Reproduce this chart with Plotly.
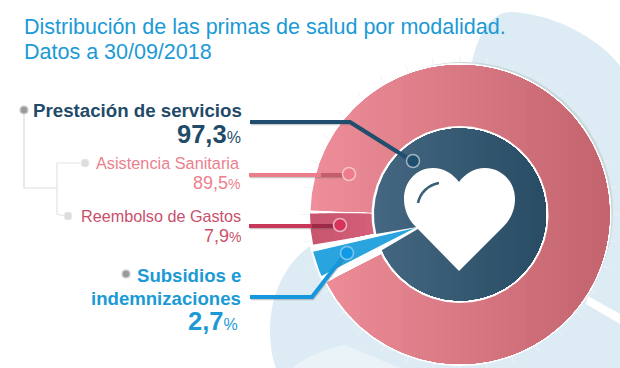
import numpy as np
import plotly.graph_objects as go

# ---- data -----------------------------------------------------------------
title_lines = ["Distribución de las primas de salud por modalidad.", "Datos a 30/09/2018"]
categories = ["Prestación de servicios", "Asistencia Sanitaria", "Reembolso de Gastos", "Subsidios e indemnizaciones"]
printed_values = ["97,3", "89,5", "7,9", "2,7"]
# Share of the outer ring as the sectors are actually drawn in the picture (percent of the turn)
ring_names = ["Asistencia Sanitaria", "Reembolso de Gastos", "Subsidios e indemnizaciones"]
ring_drawn_shares = [92.1, 3.5, 2.7]

# ---- geometry / style ------------------------------------------------------
CX, CY, R_OUT, R_IN = 460.0, 214.5, 149.5, 86.0
PINK_START = 271.5      # degrees clockwise from 12 o'clock
RED_START = 270.4
BLUE_START = 255.8
TIP = (415.0, 228.0)
BLUE_TXT = "#1B9AD6"; NAVY = "#1F4A68"; PINK_TXT = "#EC7F8E"; RED_TXT = "#C9506C"


def arc(a0, a1, r, n=None):
    n = n or max(3, int(abs(a1 - a0) * 1.5))
    t = np.radians(np.linspace(a0, a1, n))
    return np.c_[CX + r * np.sin(t), CY - r * np.cos(t)]


def sector(a0, a1, r0, r1):
    outer = arc(a0, a1, r1)
    if r0 <= 0:
        return outer
    return np.vstack([outer, arc(a1, a0, r0)])


def clip_right(poly, xk):
    out = []
    for i in range(len(poly)):
        p, q = poly[i], poly[(i + 1) % len(poly)]
        pin, qin = p[0] >= xk, q[0] >= xk
        if pin:
            out.append(p)
        if pin != qin:
            t = (xk - p[0]) / (q[0] - p[0])
            out.append(p + t * (q - p))
    return np.array(out)


def hex2rgb(h):
    return np.array([int(h[i:i + 2], 16) for i in (1, 3, 5)], float)


fig = go.Figure()


def poly_trace(poly, color, name=None):
    x = list(poly[:, 0]) + [poly[0, 0]]
    y = list(poly[:, 1]) + [poly[0, 1]]
    fig.add_trace(go.Scatter(x=x, y=y, mode="lines", fill="toself", fillcolor=color,
                             line=dict(width=0, color=color), hoverinfo="skip",
                             showlegend=False, name=name))


def gradient(poly, c0, c1, x0, x1, steps=36, name=None):
    a, b = hex2rgb(c0), hex2rgb(c1)
    for k in range(steps):
        f = k / (steps - 1)
        xk = x0 + (x1 - x0) * k / steps
        cl = clip_right(poly, xk) if k else poly
        if len(cl) < 3:
            continue
        c = a + (b - a) * f
        poly_trace(cl, "rgb(%d,%d,%d)" % tuple(c), name)


def line(xs, ys, color, width, opacity=1.0):
    fig.add_trace(go.Scatter(x=xs, y=ys, mode="lines", opacity=opacity, hoverinfo="skip", showlegend=False,
                             line=dict(color=color, width=width)))


def dot(x, y, fill, ring, size, ring_w=1.5, opacity=1.0):
    fig.add_trace(go.Scatter(x=[x], y=[y], mode="markers", hoverinfo="skip", showlegend=False, opacity=opacity,
                             marker=dict(size=size, color=fill, line=dict(color=ring, width=ring_w))))


# tick marks around the disc
tx, ty = [], []
for a in np.arange(0, 360, 10.0):
    s, c = np.sin(np.radians(a)), np.cos(np.radians(a))
    tx += [CX + 150 * s, CX + 159 * s, None]
    ty += [CY - 150 * c, CY - 159 * c, None]
line(tx, ty, "#F0F3F5", 1)

# shadow + white rim of the disc
t = np.radians(np.linspace(0, 360, 361))
poly_trace(np.c_[CX + 3 + 150 * np.sin(t), CY - 2.5 - 150 * np.cos(t)], "#CBD8DB")
poly_trace(np.c_[CX + 151.5 * np.sin(t), CY - 151.5 * np.cos(t)], "#FFFFFF")

shares_deg = [s * 3.6 for s in ring_drawn_shares]

# pink sector: clockwise from PINK_START
gradient(sector(PINK_START, PINK_START + shares_deg[0], R_IN, R_OUT), "#EE8E9A", "#C4646E", CX - R_OUT, CX + R_OUT,
         name=ring_names[0])
# red sector
gradient(sector(RED_START - shares_deg[1], RED_START, R_IN, R_OUT + 0.5), "#C9566F", "#D35F79", CX - R_OUT, CX - R_IN,
         steps=8, name=ring_names[1])

# inner disc
poly_trace(sector(0, 360, 0, R_IN + 2.5), "#FFFFFF")
gradient(sector(0, 360, 0, R_IN), "#456781", "#294D65", CX - R_IN, CX + R_IN, name=categories[0])

# white wedge behind blue sector
a_top, a_bot = BLUE_START, BLUE_START - shares_deg[2]
w = np.vstack([[TIP[0] + 8, TIP[1] - 2], arc(a_top + 2.6, a_bot - 3.2, R_OUT + 4)])
poly_trace(w, "#FFFFFF")
# blue sector
b = np.vstack([[TIP], arc(a_top, a_bot, R_OUT + 2)])
poly_trace(b, "#2AA4DF", ring_names[2])

# leader lines
def leader(xs, ys, color, dark=None):
    line([v + 1 for v in xs], [v + 2 for v in ys], "#555555", 2.5, 0.3)
    line(xs, ys, color, 4)
    if dark:
        line([xs[-1] - 28, xs[-1]], ys[-2:], dark, 4, 0.7)

leader([250, 350, 412], [122, 122, 161], "#1F4E6E")
leader([249, 349], [175, 175], "#EC7D8B", "#B5505F")
leader([249, 340], [226, 226], "#C9375A", "#8A2440")
leader([250, 312, 346], [297, 297, 253], "#1497DC")

dot(413, 161, "#1F4E6E", "#9FB3C0", 13, 1.5)
dot(349, 174, "#EE7C8C", "#F3C4CB", 13, 1.5)
dot(340, 225, "#D9335C", "#E6B5C2", 13, 1.5)
dot(347, 253, "#0F9AE6", "#7FC6EC", 13, 1.5)

# tree connectors and bullets
line([24, 24, 57], [115, 188, 188], "#DDDDDD", 1.2)
line([80, 57, 57, 65], [163, 163, 214, 216], "#E3E3E3", 1.2)
dot(24, 110, "#9A9A9A", "#D0D0D0", 8, 1.5)
dot(85, 163, "#DDDDDD", "#E8E8E8", 8, 1)
dot(68, 216, "#DDDDDD", "#E8E8E8", 8, 1)
dot(126, 274, "#9A9A9A", "#D0D0D0", 8, 1.5)

HEART = ("M 459 271 L 415 226 C 408 219 404 209 404 199 C 404 181 417 168 433 168 C 444 168 453 174 459 182 "
         "C 465 174 474 168 485 168 C 501 168 515 181 515 199 C 515 209 511 219 504 226 Z")
shapes = [
    dict(type="path", layer="below", line=dict(width=0), fillcolor="#DCEBF4",
         path="M 472 62 C 478 35 490 12 512 12 C 560 15 602 42 620 66 L 620 368 L 470 368 Z"),
    dict(type="path", layer="below", line=dict(width=0), fillcolor="#DCEBF4",
         path="M 320 240 C 290 255 270 290 270 330 C 270 345 272 358 276 368 L 470 368 L 470 240 Z"),
    dict(type="path", layer="below", line=dict(width=0), fillcolor="#EAF3F8",
         path="M 292 368 C 305 358 325 348 345 345 L 400 368 Z"),
    dict(type="path", layer="below", line=dict(width=0), fillcolor="#FFFFFF",
         path="M 588 296 L 620 314 L 620 324 L 586 304 Z"),
    dict(type="path", layer="above", line=dict(width=0), fillcolor="#FFFFFF", path=HEART),
    dict(type="path", layer="above", line=dict(width=2.5, color="#3B5F76"), path="M 418 203 C 420 193 428 185 439 183"),
]


def note(x, y, text, color, size, bold=False):
    return dict(x=x, y=y, xref="x", yref="y", text=("<b>%s</b>" % text) if bold else text, showarrow=False,
                xanchor="right", yanchor="middle", align="right",
                font=dict(family="Liberation Sans", size=size, color=color))


def pct(v, size):
    return "%s<span style='font-size:%dpx'>%%</span>" % (v, size)


annots = [
    dict(x=22, y=27, xref="x", yref="y", text=title_lines[0], showarrow=False, xanchor="left", yanchor="middle",
         font=dict(family="Liberation Sans", size=21.5, color=BLUE_TXT)),
    dict(x=22, y=52, xref="x", yref="y", text=title_lines[1], showarrow=False, xanchor="left", yanchor="middle",
         font=dict(family="Liberation Sans", size=21.5, color=BLUE_TXT)),
    note(244, 110, categories[0], NAVY, 18.7, True),
    note(243, 134, "<b>%s</b><span style='font-size:16px'>%%</span>" % printed_values[0], NAVY, 25.5),
    note(242, 163, categories[1], PINK_TXT, 16.3),
    note(243, 183, pct(printed_values[1], 14), PINK_TXT, 18),
    note(243, 216, categories[2], RED_TXT, 16.2),
    note(243, 236, pct(printed_values[2], 14), RED_TXT, 18),
    note(243, 275, "Subsidios e", BLUE_TXT, 18.6, True),
    note(243, 298, "indemnizaciones", BLUE_TXT, 18.6, True),
    note(240, 321, "<b>%s</b><span style='font-size:16px'>%%</span>" % printed_values[3], BLUE_TXT, 25.5),
]

fig.update_layout(
    width=620, height=368, margin=dict(l=0, r=0, t=0, b=0),
    paper_bgcolor="#FFFFFF", plot_bgcolor="rgba(0,0,0,0)",
    xaxis=dict(range=[0, 620], visible=False, fixedrange=True),
    yaxis=dict(range=[368, 0], visible=False, fixedrange=True),
    showlegend=False, shapes=shapes, annotations=annots,
)
fig.write_html("out.html", config=dict(displayModeBar=False),
               post_script="document.body.style.margin='0';document.documentElement.style.overflow='hidden';")
